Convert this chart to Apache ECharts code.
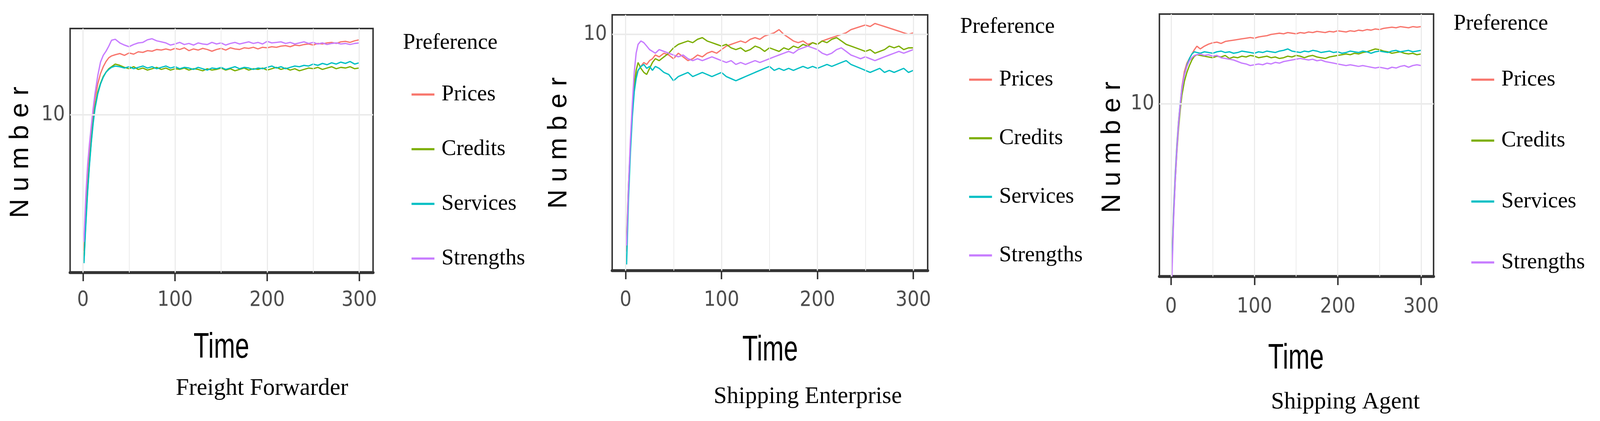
<!DOCTYPE html>
<html>
<head>
<meta charset="utf-8">
<script src="https://cdn.jsdelivr.net/npm/echarts@6/dist/echarts.min.js"></script>
<style>html,body{margin:0;padding:0;background:#fff;overflow:hidden}#chart{width:100vw;height:100vh}</style>
</head>
<body>
<div id="chart"></div>
<script>
// time steps sampled from the curves
const times = [1,3,5,7,9,11,13,16,19,22,25,28,31,35,40,
  45,50,55,60,65,70,75,80,85,90,95,100,105,110,115,120,125,130,135,140,
  145,150,155,160,165,170,175,180,185,190,195,200,205,210,215,220,225,230,235,240,
  245,250,255,260,265,270,275,280,285,290,295,300];
const names = ["Prices", "Credits", "Services", "Strengths"];
const colors = ["#F8766D", "#7CAE00", "#00BFC4", "#C77CFF"];
const xTicks = [0, 100, 200, 300];
const xGrid = [0, 50, 100, 150, 200, 250, 300];

// Freight Forwarder
const ffPrices = [2.75,3.9,5.3,6.8,8.4,10.0,11.6,13.4,14.8,15.8,16.6,17.2,17.5,17.7,17.9,
  17.6,18.0,17.8,18.2,18.1,18.4,18.3,18.6,18.5,18.7,
  18.5,18.8,18.6,18.9,18.4,18.7,18.5,18.8,18.6,18.3,
  18.6,18.8,18.5,18.9,18.7,18.6,18.9,18.8,19.0,18.7,
  19.0,18.9,19.1,19.0,19.2,19.3,19.1,19.4,19.3,19.5,
  19.6,19.4,19.7,19.6,19.8,19.9,19.7,20.0,20.1,19.9,
  20.2,20.4];
const ffCredits = [2.5,3.6,4.9,6.3,7.8,9.4,10.8,12.4,13.5,14.4,15.0,15.5,15.8,16.2,16.0,
  15.7,15.5,15.8,15.4,15.6,15.3,15.5,15.7,15.4,15.6,
  15.3,15.5,15.4,15.6,15.3,15.5,15.4,15.2,15.5,15.3,
  15.4,15.6,15.3,15.5,15.2,15.4,15.6,15.3,15.5,15.4,
  15.6,15.3,15.5,15.7,15.4,15.6,15.3,15.5,15.2,15.4,
  15.6,15.5,15.7,15.4,15.6,15.8,15.5,15.7,15.6,15.8,
  15.5,15.6];
const ffServices = [2.45,3.5,4.8,6.2,7.7,9.2,10.6,12.2,13.4,14.3,15.0,15.4,15.7,15.9,15.8,
  15.6,15.8,15.5,15.7,15.9,15.6,15.8,15.5,15.7,15.9,
  15.6,15.8,15.5,15.7,15.6,15.4,15.7,15.5,15.3,15.6,
  15.5,15.7,15.4,15.6,15.8,15.5,15.7,15.6,15.4,15.6,
  15.5,15.7,15.9,15.6,15.8,15.5,15.7,15.9,15.8,16.0,
  15.9,16.2,16.0,16.3,16.1,16.4,16.2,16.5,16.3,16.6,
  16.2,16.4];
const ffStrengths = [3.0,4.6,6.2,7.6,9.0,10.6,12.2,14.5,16.5,17.6,18.3,19.2,20.3,20.5,19.8,
  19.4,19.1,19.5,19.8,19.9,20.4,20.6,20.2,20.0,19.8,
  19.4,19.6,19.9,19.5,19.7,19.4,19.8,19.6,19.5,19.9,
  19.6,19.8,19.4,19.7,19.9,19.6,19.8,20.0,19.7,19.9,
  19.6,20.1,19.8,19.9,20.0,19.7,19.9,19.6,19.8,20.0,
  19.7,19.9,19.6,19.8,19.5,19.7,19.8,19.6,19.7,19.5,
  19.7,19.8];

// Shipping Enterprise
const sePrices = [2.6,3.8,5.0,6.2,7.2,7.8,8.0,8.2,8.4,8.3,8.5,8.6,8.8,8.7,8.9,
  8.8,8.6,8.9,8.7,8.5,8.6,8.8,8.7,8.9,9.0,
  8.9,9.1,9.3,9.4,9.5,9.6,9.5,9.7,9.8,9.7,
  9.9,10.0,10.1,10.3,10.0,9.8,9.6,9.5,9.6,9.4,
  9.5,9.4,9.6,9.7,9.8,9.9,10.0,10.1,10.3,10.4,
  10.5,10.6,10.5,10.7,10.6,10.5,10.4,10.3,10.2,10.1,
  10.0,10.1];
const seCredits = [2.8,3.9,5.0,6.2,7.3,8.0,8.4,8.1,7.9,7.8,8.1,8.4,8.6,8.5,8.7,
  8.9,9.2,9.4,9.5,9.6,9.5,9.7,9.8,9.6,9.5,
  9.4,9.3,9.4,9.2,9.1,9.2,9.0,9.1,9.3,9.2,
  9.0,9.2,9.1,9.0,9.2,9.1,9.3,9.2,9.4,9.3,
  9.5,9.4,9.6,9.5,9.7,9.8,9.6,9.4,9.3,9.2,
  9.1,9.0,9.1,8.9,9.0,9.1,9.3,9.2,9.3,9.1,
  9.2,9.2];
const seServices = [2.4,3.6,4.8,6.0,7.0,7.6,8.0,8.2,8.3,8.1,8.2,8.0,8.2,8.1,7.9,
  7.8,7.5,7.7,7.8,7.9,7.7,7.8,7.9,7.8,7.7,
  7.8,7.9,7.7,7.6,7.5,7.6,7.7,7.8,7.9,8.0,
  8.1,8.2,8.0,8.1,8.0,8.1,8.0,8.1,8.2,8.1,
  8.2,8.1,8.2,8.3,8.2,8.3,8.4,8.5,8.3,8.2,
  8.1,8.0,7.9,8.0,8.1,7.9,8.0,7.9,8.0,8.1,
  7.9,8.0];
const seStrengths = [2.7,3.9,5.2,6.5,7.9,8.9,9.4,9.6,9.5,9.3,9.1,9.0,8.9,9.1,9.0,
  8.9,8.8,8.7,8.8,8.6,8.5,8.6,8.5,8.6,8.7,
  8.6,8.5,8.4,8.5,8.3,8.4,8.3,8.4,8.5,8.4,
  8.5,8.6,8.7,8.8,8.9,9.0,8.9,9.1,9.2,9.3,
  9.2,9.1,8.9,8.8,8.9,9.1,9.2,9.0,8.8,8.7,
  8.6,8.7,8.6,8.5,8.6,8.7,8.8,8.9,9.0,8.9,
  9.0,9.1];

// Shipping Agent
const saPrices = [2.5,3.9,5.4,7.0,8.6,10.0,11.6,13.3,14.3,14.9,15.5,16.1,16.6,16.2,16.6,
  16.9,17.1,17.2,17.0,17.3,17.4,17.5,17.6,17.7,17.8,
  17.9,17.8,18.0,18.1,18.2,18.4,18.5,18.6,18.5,18.7,
  18.6,18.5,18.7,18.6,18.8,18.7,18.9,18.8,18.7,18.9,
  18.8,19.0,18.9,18.8,19.0,18.9,19.1,19.0,19.2,19.1,
  19.3,19.2,19.4,19.5,19.6,19.5,19.7,19.6,19.5,19.7,
  19.6,19.7];
const saCredits = [2.4,3.7,5.1,6.6,8.1,9.5,10.8,12.2,13.2,14.0,14.7,15.2,15.4,15.3,15.2,
  15.1,15.0,15.2,15.1,15.3,14.9,15.1,15.0,15.2,15.1,
  15.3,15.2,15.0,15.1,15.2,15.0,15.1,14.9,15.0,15.2,
  15.1,15.3,15.2,15.0,15.2,15.3,15.1,15.0,14.9,15.1,
  15.2,15.3,15.4,15.5,15.4,15.6,15.5,15.7,15.8,16.0,
  16.2,16.1,15.9,15.8,15.6,15.7,15.8,15.6,15.5,15.6,
  15.4,15.5];
const saServices = [2.4,3.8,5.3,6.9,8.5,10.0,11.4,12.9,14.0,14.9,15.5,15.8,15.7,15.6,15.8,
  15.7,15.6,15.8,15.9,15.7,15.8,15.6,15.7,15.9,15.8,
  15.7,15.6,15.8,15.7,15.9,15.8,15.7,15.9,16.0,16.2,
  15.9,15.8,15.7,15.9,15.8,16.0,15.9,15.7,15.8,15.9,
  15.7,15.8,15.6,15.7,15.9,15.8,15.7,15.9,15.8,15.6,
  15.8,15.9,15.8,15.7,15.9,16.0,15.8,15.9,16.0,15.8,
  15.9,16.0];
const saStrengths = [2.2,3.6,5.1,6.7,8.4,9.9,11.4,12.9,13.9,14.6,15.0,15.3,15.4,15.5,15.3,
  15.4,15.2,15.3,15.0,14.9,14.8,14.7,14.5,14.3,14.2,
  14.0,14.1,14.2,14.1,14.3,14.2,14.4,14.3,14.5,14.6,
  14.7,14.8,14.9,14.8,14.7,14.8,14.6,14.7,14.5,14.4,
  14.3,14.2,14.1,14.0,14.1,14.0,13.9,14.0,13.9,13.8,
  13.7,13.8,13.7,13.6,13.8,13.7,13.9,14.0,13.8,14.0,
  14.1,14.0];

const panels = [
  { title: "Freight Forwarder", data: [ffPrices, ffCredits, ffServices, ffStrengths],
    grid: [190, 73, 821, 625], yMin: 2.24, yMax: 22.7, labelMargin: 45,
    legend: [1110, 206, 78], pref: [1092, 110], number: [56, 390],
    time: [600, 891], caption: [710, 995] },
  { title: "Shipping Enterprise", data: [sePrices, seCredits, seServices, seStrengths],
    grid: [1659, 38, 855, 655], yMin: 2.31, yMax: 11.29, labelMargin: 50,
    legend: [2621, 168, 88], pref: [2602, 69], number: [1515, 366],
    time: [2087, 898], caption: [2189, 1016] },
  { title: "Shipping Agent", data: [saPrices, saCredits, saServices, saStrengths],
    grid: [3142, 36, 743, 672], yMin: 2.2, yMax: 22.0, labelMargin: 52,
    legend: [3982, 168, 94], pref: [3939, 61], number: [3015, 377],
    time: [3512, 919], caption: [3646, 1030] }
];

const el = document.getElementById("chart");
const sx = el.clientWidth / 4336, sy = el.clientHeight / 1078, fs = Math.min(sx, sy);
const X = v => v * sx, Y = v => v * sy, F = v => v * fs;

const tickFont = { fontFamily: "'DejaVu Sans Condensed', 'Liberation Sans', sans-serif", fontSize: F(56), color: "#4d4d4d" };
const grids = [], xAxes = [], yAxes = [], series = [], legends = [], graphics = [];

panels.forEach((p, i) => {
  grids.push({ show: true, borderColor: "#333", borderWidth: F(4), backgroundColor: "#fff",
    left: X(p.grid[0]), top: Y(p.grid[1]), width: X(p.grid[2]), height: Y(p.grid[3]) });
  xAxes.push({
    type: "value", gridIndex: i, min: -14, max: 315,
    axisLine: { show: true, onZero: false, lineStyle: { color: "#333", width: F(8) } },
    axisTick: { show: true, customValues: xTicks, length: Y(22), lineStyle: { color: "#333", width: F(4) } },
    axisLabel: Object.assign({ customValues: xTicks, margin: Y(p.labelMargin) }, tickFont),
    splitLine: { show: false }
  });
  yAxes.push({
    type: "log", gridIndex: i, min: p.yMin, max: p.yMax,
    axisLine: { show: false },
    axisTick: { show: true, customValues: [10], length: X(10), lineStyle: { color: "#333", width: F(4) } },
    axisLabel: Object.assign({ customValues: [10], margin: X(14) }, tickFont),
    splitLine: { show: false }
  });
  // background grid lines
  series.push({
    type: "line", xAxisIndex: i, yAxisIndex: i, data: [[-100, 10]], showSymbol: false,
    lineStyle: { opacity: 0 }, silent: true, z: 1,
    markLine: {
      symbol: "none", silent: true, label: { show: false }, animation: false,
      data: xGrid.map(v => ({ xAxis: v, lineStyle: { color: "#ebebeb", width: F(v % 100 === 0 ? 3 : 2), type: "solid" } }))
        .concat([{ yAxis: 10, lineStyle: { color: "#ebebeb", width: F(4), type: "solid" } }])
    }
  });
  names.forEach((n, k) => {
    series.push({
      name: n, type: "line", xAxisIndex: i, yAxisIndex: i, z: 3,
      data: times.map((t, j) => [t, p.data[k][j]]),
      showSymbol: false, animation: false, color: colors[k],
      lineStyle: { width: F(3.5), color: colors[k] }
    });
  });
  legends.push({
    data: names, orient: "vertical", left: X(p.legend[0]), top: Y(p.legend[1]),
    itemGap: Y(p.legend[2]), itemWidth: X(62), itemHeight: F(6), icon: "rect",
    textStyle: { fontFamily: "Liberation Serif", fontSize: F(60), color: "#000", lineHeight: Y(62), padding: [0, 0, 0, X(14)] }
  });
  graphics.push(
    { type: "text", x: X(p.pref[0]), y: Y(p.pref[1]), style: { text: "Preference", font: F(60) + "px 'Liberation Serif'", fill: "#000", verticalAlign: "middle" } },
    { type: "text", x: X(p.number[0]), y: Y(p.number[1]), rotation: Math.PI / 2, style: { text: "N u m b e r", font: F(72) + "px 'Liberation Sans'", fill: "#000", align: "center", verticalAlign: "middle" } },
    { type: "text", x: X(p.time[0]), y: Y(p.time[1]), scaleX: 0.72, style: { text: "Time", font: F(96) + "px 'Liberation Sans'", fill: "#000", align: "center", verticalAlign: "middle" } },
    { type: "text", x: X(p.caption[0]), y: Y(p.caption[1]), style: { text: p.title, font: F(64) + "px 'Liberation Serif'", fill: "#000", align: "center", verticalAlign: "middle" } }
  );
});

const chart = echarts.init(el);
chart.setOption({
  animation: false,
  backgroundColor: "#fff",
  grid: grids, xAxis: xAxes, yAxis: yAxes, series: series, legend: legends,
  graphic: graphics
});
window.addEventListener("resize", () => chart.resize());
</script>
</body>
</html>
